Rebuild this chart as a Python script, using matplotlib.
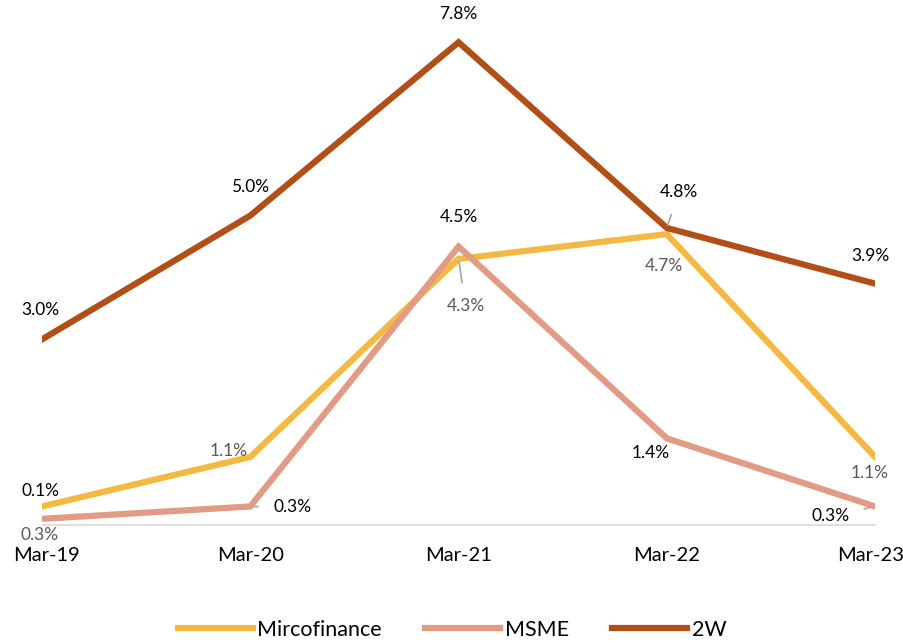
import matplotlib.pyplot as plt
import matplotlib.transforms as mtransforms

# data
periods = ['Mar-19', 'Mar-20', 'Mar-21', 'Mar-22', 'Mar-23']
microfinance = [0.3, 1.1, 4.3, 4.7, 1.1]
msme = [0.1, 0.3, 4.5, 1.4, 0.3]
two_w = [3.0, 5.0, 7.8, 4.8, 3.9]

plt.rcParams['font.family'] = ['Lato', 'DejaVu Sans']

fig = plt.figure(figsize=(9.04, 6.43), dpi=100)
ax = fig.add_axes([0.0465, 0.1835, 0.9215, 0.770])

x = range(len(periods))
ax.plot(x, microfinance, color='#F4B942', lw=4.5, label='Mircofinance', solid_joinstyle='miter')
ax.plot(x, msme, color='#E29B84', lw=4.5, label='MSME', solid_joinstyle='miter')
ax.plot(x, two_w, color='#B24E17', lw=4.5, label='2W', solid_joinstyle='miter')

ax.set_xlim(0, 4)
ax.set_ylim(0, 8)
for s in ['top', 'right', 'left']:
    ax.spines[s].set_visible(False)
ax.spines['bottom'].set_color('#D9D9D9')
ax.spines['bottom'].set_linewidth(1.2)
ax.set_yticks([])
ax.set_xticks(list(x))
ax.set_xticklabels(periods, fontsize=14.5)
ax.tick_params(axis='x', length=0, pad=16)

# keep the end labels inside the figure
shift_l = mtransforms.ScaledTranslation(4 / 100, 0, fig.dpi_scale_trans)
shift_r = mtransforms.ScaledTranslation(-4 / 100, 0, fig.dpi_scale_trans)
labels = ax.get_xticklabels()
labels[0].set_transform(labels[0].get_transform() + shift_l)
labels[-1].set_transform(labels[-1].get_transform() + shift_r)

# label offsets in pixels (dx, dy) and whether a leader line is drawn
off_2w = [(-2, 29), (0, 29), (0, 28), (12, 36), (-5, 28)]
off_mf = [(-2, -29), (-22, 6), (7, -47), (-3, -32), (-5, -16)]
off_ms = [(-2, 28), (42, -1), (0, 30), (-16, -15), (-45, -10)]
lead_2w = [False, False, False, True, False]
lead_mf = [False, False, True, False, False]
lead_ms = [False, True, False, False, True]

def add_labels(vals, offs, leads, color):
    for i, v in enumerate(vals):
        dx, dy = offs[i]
        props = None
        if leads[i]:
            props = dict(arrowstyle='-', color='#A6A6A6', lw=1.2, shrinkA=9, shrinkB=2)
        ax.annotate(f'{v:.1f}%', (i, v), xytext=(dx, dy), textcoords='offset pixels',
                    ha='center', va='center', fontsize=12.5, color=color,
                    arrowprops=props, annotation_clip=False)

add_labels(two_w, off_2w, lead_2w, '#000000')
add_labels(microfinance, off_mf, lead_mf, '#595959')
add_labels(msme, off_ms, lead_ms, '#000000')

fig.legend(loc='lower center', ncol=3, frameon=False, fontsize=15.5,
           bbox_to_anchor=(0.5, -0.025), handlelength=3.5, handletextpad=0.2,
           columnspacing=2.0)

plt.savefig('out.png', dpi=100)
